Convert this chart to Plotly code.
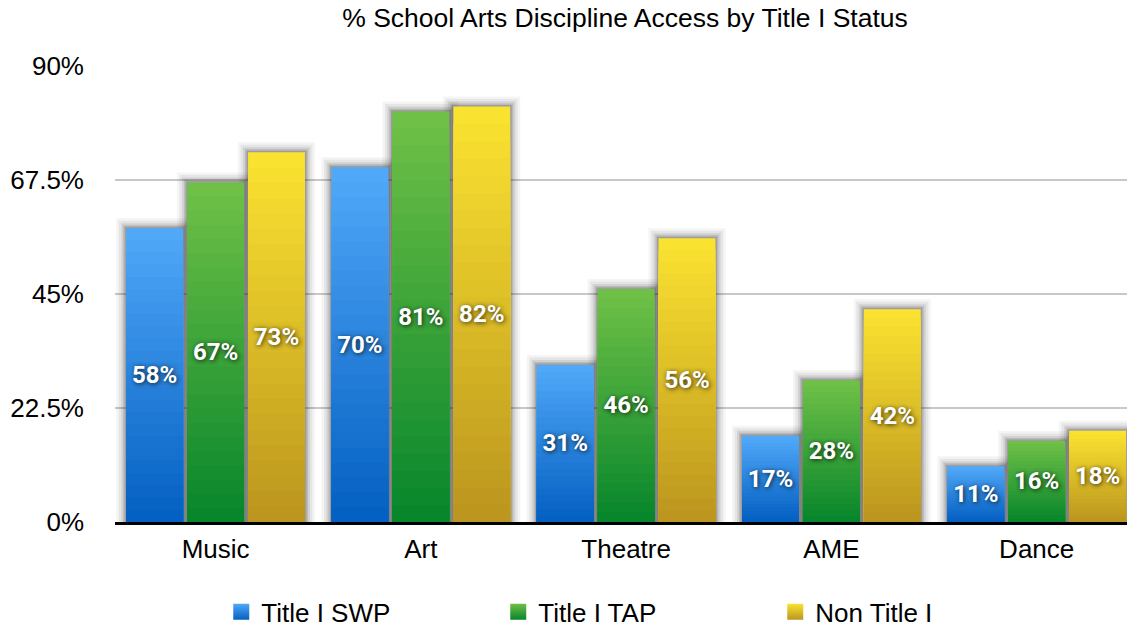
import plotly.graph_objects as go

categories = ["Music", "Art", "Theatre", "AME", "Dance"]
swp = [58, 70, 31, 17, 11]
tap = [67, 81, 46, 28, 16]
non_title = [73, 82, 56, 42, 18]
series_names = ["Title I SWP", "Title I TAP", "Non Title I"]
tick_vals = [0, 22.5, 45, 67.5, 90]
tick_text = ["0%", "22.5%", "45%", "67.5%", "90%"]

series = [swp, tap, non_title]
top_colors = [(80, 168, 248), (110, 192, 70), (250, 226, 48)]
bottom_colors = [(4, 96, 194), (8, 134, 44), (188, 150, 30)]

N = 24
fig = go.Figure()


def lerp(c1, c2, t):
    return "rgb(%d,%d,%d)" % tuple(round(a + (b - a) * t) for a, b in zip(c1, c2))


LABEL_FONT = "Roboto, Arial, sans-serif"

# soft shadow halo drawn behind the bars
for name, vals in zip(series_names, series):
    for w, a in [(20, 0.05), (15, 0.07), (10, 0.10), (6, 0.14), (3, 0.18)]:
        fig.add_trace(go.Bar(
            x=categories, y=vals, offsetgroup=name,
            marker=dict(color="rgba(0,0,0,0)", line=dict(width=w, color="rgba(40,40,40,%s)" % a)),
            showlegend=False, hoverinfo="skip",
        ))

for name, vals, ctop, cbot in zip(series_names, series, top_colors, bottom_colors):
    for k in range(N):
        frac = 1 - k / N
        fig.add_trace(go.Bar(
            x=categories, y=[v * frac for v in vals], offsetgroup=name,
            marker=dict(color=lerp(ctop, cbot, k / (N - 1)), line=dict(width=0)),
            showlegend=False, hoverinfo="skip",
        ))
    fig.add_trace(go.Bar(
        x=categories, y=vals, offsetgroup=name,
        marker=dict(color="rgba(0,0,0,0)", line=dict(width=0)),
        text=["%d%%" % v for v in vals], textposition="inside",
        insidetextanchor="middle", textangle=0, constraintext="none",
        textfont=dict(color="white", size=24, family=LABEL_FONT,
                      weight="bold", shadow="1px 1px 5px rgba(0,0,0,0.8)"),
        showlegend=False, hovertemplate="%{x}: %{y}%<extra>" + name + "</extra>",
    ))

for name, ctop, cbot in zip(series_names, top_colors, bottom_colors):
    fig.add_trace(go.Scatter(
        x=[None], y=[None], mode="markers", name=name,
        marker=dict(symbol="square", size=16, color=lerp(ctop, ctop, 0),
                    gradient=dict(type="vertical", color=lerp(cbot, cbot, 0)),
                    line=dict(width=0)),
    ))

fig.update_layout(
    width=1127, height=628,
    margin=dict(l=115, r=0, t=66, b=106, autoexpand=False),
    paper_bgcolor="white", plot_bgcolor="white",
    barmode="group", bargap=0.11, bargroupgap=0.066,
    font=dict(family="Liberation Sans, Arial, sans-serif", color="black"),
    title=dict(text="% School Arts Discipline Access by Title I Status",
               x=625 / 1127, xref="container", xanchor="center",
               y=1 - 18 / 628, yref="container",
               yanchor="middle", font=dict(size=26.5, color="black")),
    legend=dict(orientation="h", x=0.105, xanchor="left", y=-0.197, yanchor="middle",
                font=dict(size=26), entrywidth=232, entrywidthmode="pixels",
                bgcolor="rgba(0,0,0,0)"),
    showlegend=True,
)
fig.update_xaxes(range=[-0.49, 4.44], showgrid=False, ticks="", tickfont=dict(size=26),
                 showline=True, linecolor="black", linewidth=3, ticklabelstandoff=2,
                 fixedrange=True)
fig.update_yaxes(range=[0, 90], tickvals=tick_vals, ticktext=tick_text, showgrid=True,
                 gridcolor="#c8c8c8", gridwidth=1.5, zeroline=False, ticks="",
                 tickfont=dict(size=26), ticklabelstandoff=30, fixedrange=True)

fig.write_html("out.html", config={"displayModeBar": False},
               post_script="document.body.style.margin='0';document.body.style.overflow='hidden';")
